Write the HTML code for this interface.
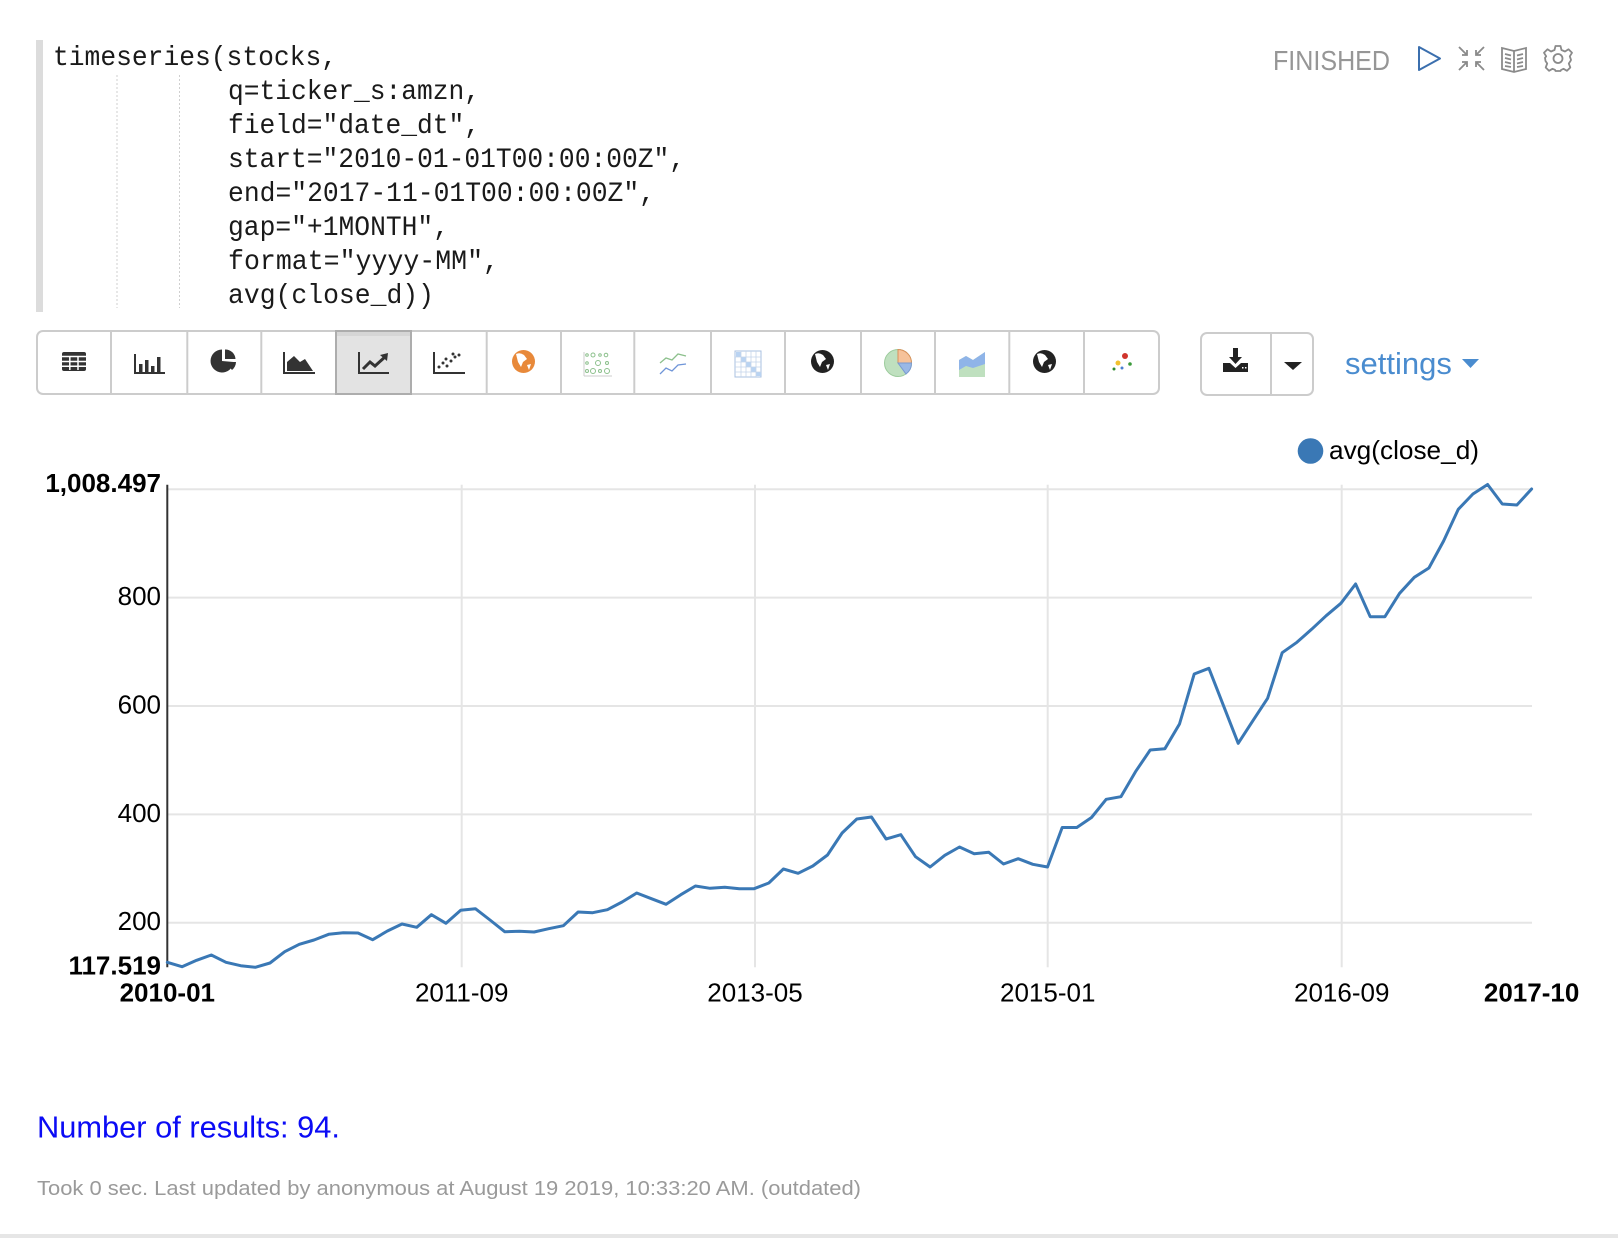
<!DOCTYPE html>
<html><head><meta charset="utf-8"><style>
html,body{margin:0;padding:0;background:#fff;width:1618px;height:1238px;overflow:hidden}
svg{display:block}
</style></head><body>
<svg width="1618" height="1238" viewBox="0 0 1618 1238" xmlns="http://www.w3.org/2000/svg">
<rect x="0" y="0" width="1618" height="1238" fill="#fff"/>
<!-- code block -->
<rect x="36" y="40" width="7" height="272" fill="#dcdcdc"/>
<line x1="117" y1="75" x2="117" y2="308" stroke="#cfcfcf" stroke-width="1" stroke-dasharray="2,2"/>
<line x1="179.5" y1="75" x2="179.5" y2="308" stroke="#cfcfcf" stroke-width="1" stroke-dasharray="2,2"/>
<g font-family="'Liberation Mono', monospace" font-size="28" fill="#1a1a1a" xml:space="preserve">
<text x="53" y="65" textLength="284" lengthAdjust="spacingAndGlyphs">timeseries(stocks,</text>
<text x="228" y="99" textLength="252" lengthAdjust="spacingAndGlyphs">q=ticker_s:amzn,</text>
<text x="228" y="133" textLength="252" lengthAdjust="spacingAndGlyphs">field="date_dt",</text>
<text x="228" y="167" textLength="457" lengthAdjust="spacingAndGlyphs">start="2010-01-01T00:00:00Z",</text>
<text x="228" y="201" textLength="427" lengthAdjust="spacingAndGlyphs">end="2017-11-01T00:00:00Z",</text>
<text x="228" y="235" textLength="221" lengthAdjust="spacingAndGlyphs">gap="+1MONTH",</text>
<text x="228" y="269" textLength="271" lengthAdjust="spacingAndGlyphs">format="yyyy-MM",</text>
<text x="228" y="303" textLength="206" lengthAdjust="spacingAndGlyphs">avg(close_d))</text>
</g>
<!-- top right status -->
<text x="1273" y="70" font-family="'Liberation Sans', sans-serif" font-size="28" fill="#969696" textLength="117" lengthAdjust="spacingAndGlyphs">FINISHED</text>
<polygon points="1419,47 1440,58.5 1419,70" fill="none" stroke="#3b6fae" stroke-width="2" stroke-linejoin="round"/>
<g stroke="#8a8a8a" stroke-width="1.8" fill="none">
<path d="M1459,47 L1467,55 M1467,50 L1467,55 L1462,55"/>
<path d="M1484,47 L1476,55 M1476,50 L1476,55 L1481,55"/>
<path d="M1459,70 L1467,62 M1467,67 L1467,62 L1462,62"/>
<path d="M1484,70 L1476,62 M1476,67 L1476,62 L1481,62"/>
<path d="M1502,48 L1514,51 L1526,48 L1526,69 L1514,72 L1502,69 Z M1514,51 L1514,72"/>
<path d="M1505,54 L1511,55.5 M1505,58 L1511,59.5 M1505,62 L1511,63.5 M1505,66 L1511,67 M1517,55.5 L1523,54 M1517,59.5 L1523,58 M1517,63.5 L1523,62 M1517,67 L1523,66"/>
<circle cx="1558" cy="58.5" r="4.5"/>
<path d="M1555.5,46 L1560.5,46 L1561.5,50 L1565,51.5 L1568.5,49.3 L1572,52.8 L1569.8,56.3 L1571,59.8 L1571,60 L1570.5,61 L1568.8,63.5 L1570.3,67.5 L1567,70.8 L1563.5,68.8 L1561,70 L1560.5,71 L1555.5,71 L1555,69.8 L1552.5,68.8 L1549,70.8 L1545.7,67.5 L1547.2,63.5 L1545.5,61 L1545,57.8 L1546.2,56.3 L1544,52.8 L1547.5,49.3 L1551,51.5 L1554.5,50 Z" stroke-linejoin="round"/>
</g>
<!-- toolbar -->
<rect x="37" y="331" width="1122" height="63" rx="6" ry="6" fill="#fff" stroke="#cccccc" stroke-width="2"/>
<rect x="336" y="331" width="75" height="63" fill="#e3e3e3" stroke="#adadad" stroke-width="2"/>
<rect x="337" y="332" width="73" height="4" fill="#d6d6d6"/>
<g stroke="#cccccc" stroke-width="2">
<line x1="111" y1="331" x2="111" y2="394"/><line x1="187.3" y1="331" x2="187.3" y2="394"/>
<line x1="261.3" y1="331" x2="261.3" y2="394"/>
<line x1="486.7" y1="331" x2="486.7" y2="394"/><line x1="561" y1="331" x2="561" y2="394"/>
<line x1="634.3" y1="331" x2="634.3" y2="394"/><line x1="711" y1="331" x2="711" y2="394"/>
<line x1="785" y1="331" x2="785" y2="394"/><line x1="861" y1="331" x2="861" y2="394"/>
<line x1="935" y1="331" x2="935" y2="394"/><line x1="1009.3" y1="331" x2="1009.3" y2="394"/>
<line x1="1084" y1="331" x2="1084" y2="394"/>
</g>
<!-- icon 1 table -->
<rect x="62" y="352" width="24" height="19" rx="2" fill="#333"/>
<g stroke="#fff" stroke-width="1.5">
<line x1="62" y1="356.5" x2="86" y2="356.5"/><line x1="62" y1="361.5" x2="86" y2="361.5"/><line x1="62" y1="366.3" x2="86" y2="366.3"/>
<line x1="69.8" y1="356" x2="69.8" y2="370"/><line x1="78" y1="356" x2="78" y2="370"/>
</g>
<!-- icon 2 bar -->
<path d="M135,354 L135,373 L165,373" stroke="#333" stroke-width="2" fill="none"/>
<rect x="139" y="364" width="3.5" height="8" fill="#333"/><rect x="145" y="360" width="3.5" height="12" fill="#333"/>
<rect x="151" y="366" width="3.5" height="6" fill="#333"/><rect x="157" y="357" width="3.5" height="15" fill="#333"/>
<!-- icon 3 pie -->
<path d="M222,361 L222,349.5 A11.5,11.5 0 1,0 233.5,362 Z" fill="#333"/>
<path d="M225,359 L225,349.5 A10,10 0 0,1 235.5,359 Z" fill="#333"/>
<path d="M225,362 L236,362 A11,11 0 0,1 232,370 Z" fill="#333"/>
<!-- icon 4 area -->
<path d="M284,352 L284,373 L315,373" stroke="#333" stroke-width="2" fill="none"/>
<path d="M287,371 L287,362 L294,356 L300,362 L305,359 L313,371 Z" fill="#333"/>
<!-- icon 5 line -->
<path d="M359,352 L359,373 L389,373" stroke="#333" stroke-width="2" fill="none"/>
<path d="M363,369 L370,362 L375,366 L386,356" stroke="#333" stroke-width="3" fill="none"/>
<path d="M380,355 L388,353 L387,361 Z" fill="#333"/>
<!-- icon 6 scatter -->
<path d="M434,352 L434,373 L465,373" stroke="#333" stroke-width="2" fill="none"/>
<g fill="#333"><circle cx="439" cy="367" r="1.5"/><circle cx="443" cy="363" r="1.5"/><circle cx="447" cy="366" r="1.5"/><circle cx="446" cy="359" r="1.5"/><circle cx="451" cy="361" r="1.5"/><circle cx="455" cy="357" r="1.5"/><circle cx="459" cy="355" r="1.5"/><circle cx="453" cy="354" r="1.5"/></g>
<!-- icon 7 orange globe -->
<circle cx="523.5" cy="361.5" r="11.5" fill="#e8893a"/>
<path d="M516,354 Q520,352 524,355 L527,359 L523,362 L521,367 L518,362 Z M527,365 L531,364 L529,370 Z" fill="#fff"/>
<!-- icon 8 dots grid -->
<g fill="none" stroke="#8cc08c" stroke-width="1">
<circle cx="587" cy="355" r="1.3"/><circle cx="593" cy="355" r="2"/><circle cx="600" cy="355" r="1.3"/><circle cx="606" cy="355" r="1.8"/>
<circle cx="587" cy="363" r="1.3"/><circle cx="598" cy="363" r="2.5"/><circle cx="607" cy="363" r="1.5"/>
<circle cx="587" cy="371" r="1.5"/><circle cx="593" cy="371" r="2.5"/><circle cx="600" cy="371" r="1.5"/><circle cx="607" cy="371" r="2.5"/>
</g>
<line x1="584" y1="376" x2="612" y2="376" stroke="#ccc" stroke-width="1"/>
<line x1="584" y1="352" x2="584" y2="376" stroke="#ccc" stroke-width="1"/>
<!-- icon 9 lines -->
<polyline points="660,363 666,358 672,360 678,354 686,356" fill="none" stroke="#8cc08c" stroke-width="1.3"/>
<polyline points="660,374 666,368 672,371 678,365 686,364" fill="none" stroke="#6f95d8" stroke-width="1.3"/>
<!-- icon 10 blue grid -->
<rect x="735" y="351" width="26" height="26" fill="#fff" stroke="#a9c0e0" stroke-width="1"/>
<g fill="#b9d3f2"><rect x="736" y="352" width="5" height="5"/><rect x="741" y="357" width="5" height="5"/><rect x="746" y="362" width="5" height="5"/><rect x="751" y="367" width="5" height="5"/><rect x="756" y="372" width="5" height="4"/></g>
<g stroke="#c5d5ea" stroke-width="0.8"><line x1="741" y1="351" x2="741" y2="377"/><line x1="746" y1="351" x2="746" y2="377"/><line x1="751" y1="351" x2="751" y2="377"/><line x1="756" y1="351" x2="756" y2="377"/><line x1="735" y1="357" x2="761" y2="357"/><line x1="735" y1="362" x2="761" y2="362"/><line x1="735" y1="367" x2="761" y2="367"/><line x1="735" y1="372" x2="761" y2="372"/></g>
<!-- icon 11 dark globe -->
<circle cx="822.5" cy="361.5" r="11.5" fill="#222"/>
<path d="M815,354 Q819,352 823,355 L826,359 L822,362 L820,367 L817,362 Z M826,365 L830,364 L828,370 Z" fill="#fff"/>
<!-- icon 12 colored pie -->
<circle cx="898" cy="363" r="13.5" fill="#bfe0bf" stroke="#9ccb9c" stroke-width="1"/>
<path d="M898,363 L898,349.5 A13.5,13.5 0 0,1 911.5,363 Z" fill="#f6c29a" stroke="#d9905a" stroke-width="1"/>
<path d="M898,363 L911.5,363 A13.5,13.5 0 0,1 906,374 Z" fill="#9ab8e6" stroke="#7a9ad0" stroke-width="1"/>
<!-- icon 13 colored area -->
<path d="M959,360 L966,356 L973,360 L985,352 L985,377 L959,377 Z" fill="#bfe0bf"/>
<path d="M959,360 L966,356 L973,360 L985,352 L985,364 L973,368 L966,366 L959,370 Z" fill="#8fb4e8"/>
<!-- icon 14 dark globe -->
<circle cx="1044.5" cy="361.5" r="11.5" fill="#222"/>
<path d="M1037,354 Q1041,352 1045,355 L1048,359 L1044,362 L1042,367 L1039,362 Z M1048,365 L1052,364 L1050,370 Z" fill="#fff"/>
<!-- icon 15 colored dots -->
<circle cx="1125" cy="356" r="3" fill="#d0342c"/><circle cx="1118" cy="363" r="2.5" fill="#f2c12e"/>
<circle cx="1130" cy="364" r="1.8" fill="#3a9a3a"/><circle cx="1114" cy="369" r="1.5" fill="#2e8a2e"/><circle cx="1122" cy="368" r="1.5" fill="#4a7fd0"/>
<!-- download group -->
<rect x="1201" y="333" width="112" height="62" rx="6" ry="6" fill="#fff" stroke="#cccccc" stroke-width="2"/>
<line x1="1271" y1="333" x2="1271" y2="395" stroke="#cccccc" stroke-width="2"/>
<path d="M1233,348 L1238,348 L1238,357 L1242,357 L1235.5,364 L1229,357 L1233,357 Z" fill="#222"/>
<path d="M1223,363 L1230,363 L1235.5,368 L1241,363 L1248,363 L1248,372 L1223,372 Z" fill="#222"/>
<rect x="1242" y="367" width="1.5" height="1.5" fill="#fff"/><rect x="1245" y="367" width="1.5" height="1.5" fill="#fff"/>
<polygon points="1284,362 1302,362 1293,370" fill="#222"/>
<text x="1345" y="374" font-family="'Liberation Sans', sans-serif" font-size="31" fill="#4a8ccf">settings</text>
<polygon points="1462,359 1479,359 1470.5,368" fill="#4a8ccf"/>
<!-- chart grid -->
<g stroke="#e5e5e5" stroke-width="2">
<line x1="168" y1="489.3" x2="1532" y2="489.3"/>
<line x1="168" y1="597.6" x2="1532" y2="597.6"/>
<line x1="168" y1="706" x2="1532" y2="706"/>
<line x1="168" y1="814.4" x2="1532" y2="814.4"/>
<line x1="168" y1="922.7" x2="1532" y2="922.7"/>
<line x1="461.7" y1="484.7" x2="461.7" y2="967.3"/>
<line x1="755" y1="484.7" x2="755" y2="967.3"/>
<line x1="1047.7" y1="484.7" x2="1047.7" y2="967.3"/>
<line x1="1341.7" y1="484.7" x2="1341.7" y2="967.3"/>
</g>
<line x1="167.3" y1="484.7" x2="167.3" y2="967.3" stroke="#333" stroke-width="2"/>
<!-- y labels -->
<g font-family="'Liberation Sans', sans-serif" font-size="26" fill="#000" text-anchor="end">
<text x="161" y="492" font-weight="bold">1,008.497</text>
<text x="161" y="605">800</text>
<text x="161" y="713.5">600</text>
<text x="161" y="822">400</text>
<text x="161" y="930">200</text>
<text x="161" y="974.5" font-weight="bold">117.519</text>
</g>
<!-- x labels -->
<g font-family="'Liberation Sans', sans-serif" font-size="26" fill="#000" text-anchor="middle">
<text x="167.3" y="1001.5" font-weight="bold">2010-01</text>
<text x="461.7" y="1001.5">2011-09</text>
<text x="755" y="1001.5">2013-05</text>
<text x="1047.7" y="1001.5">2015-01</text>
<text x="1341.7" y="1001.5">2016-09</text>
<text x="1531.6" y="1001.5" font-weight="bold">2017-10</text>
</g>
<!-- series -->
<polyline fill="none" stroke="#3a78b5" stroke-width="3" stroke-linejoin="round" stroke-linecap="round" points="167.3,962.3 182.0,966.7 196.6,960.3 211.3,955 226.0,962.3 240.7,965.7 255.3,967.3 270.0,963 284.7,951.7 299.3,944.3 314.0,940 328.7,934.3 343.3,932.7 358.0,933 372.7,939.7 387.4,931 402.0,924 416.7,927.3 431.4,914.7 446.0,923.3 460.7,910.3 475.4,908.7 490.0,920 504.7,931.7 519.4,931.3 534.1,932 548.7,928.7 563.4,925.7 578.1,912 592.7,912.7 607.4,909.7 622.1,902 636.7,893 651.4,898.7 666.1,904.3 680.8,894.7 695.4,886 710.1,888.3 724.8,887.3 739.4,888.7 754.1,888.7 768.8,883 783.4,869 798.1,873.3 812.8,866 827.5,855 842.1,833 856.8,819 871.5,817 886.1,839 900.8,834.7 915.5,856.7 930.1,867 944.8,855.3 959.5,847 974.2,853.7 988.8,852.3 1003.5,864 1018.2,858.7 1032.8,864.3 1047.5,867 1062.2,827.5 1076.8,827.5 1091.5,817.5 1106.2,799.3 1120.9,796.7 1135.5,771.7 1150.2,750 1164.9,748.7 1179.5,724 1194.2,674 1208.9,668.3 1223.5,705.7 1238.2,743.3 1252.9,720.7 1267.6,698.3 1282.2,652.7 1296.9,642.3 1311.6,629.3 1326.2,615.7 1340.9,603.3 1355.6,584 1370.2,616.7 1384.9,616.7 1399.6,593.3 1414.3,577.3 1428.9,568 1443.6,541 1458.3,509.3 1472.9,494 1487.6,484.5 1502.3,504 1516.9,505 1531.6,489"/>
<!-- legend -->
<circle cx="1310.5" cy="451" r="12.8" fill="#3a78b5"/>
<text x="1329" y="459" font-family="'Liberation Sans', sans-serif" font-size="26" fill="#000" textLength="150" lengthAdjust="spacingAndGlyphs">avg(close_d)</text>
<!-- footer -->
<text x="37" y="1137.5" font-family="'Liberation Sans', sans-serif" font-size="31" fill="#0b0bf5" textLength="303" lengthAdjust="spacingAndGlyphs">Number of results: 94.</text>
<text x="37" y="1195" font-family="'Liberation Sans', sans-serif" font-size="20.5" fill="#9a9a9a" textLength="824" lengthAdjust="spacingAndGlyphs">Took 0 sec. Last updated by anonymous at August 19 2019, 10:33:20 AM. (outdated)</text>
<rect x="0" y="1234" width="1618" height="4" fill="#e6e6e6"/>
</svg>
</body></html>
